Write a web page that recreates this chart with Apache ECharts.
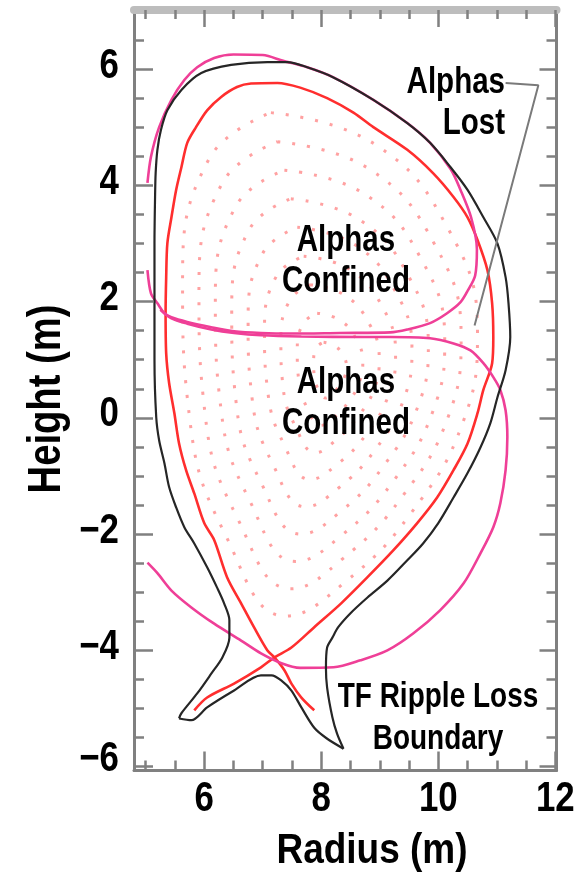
<!DOCTYPE html>
<html><head><meta charset="utf-8">
<script src="https://cdn.jsdelivr.net/npm/echarts@6/dist/echarts.min.js"></script>
<style>html,body{margin:0;padding:0;background:#fff}#c{width:576px;height:873px}</style>
</head><body><div id="c"></div>
<script>
// ---- tick values ----
const xMajorTicks = [6, 8, 10, 12];
const xMinorTicks = [5, 5.5, 6.5, 7, 7.5, 8.5, 9, 9.5, 10.5, 11, 11.5];
const yMajorTicks = [-6, -4, -2, 0, 2, 4, 6];
const yMinorTicks = [-5.5, -5, -4.5, -3.5, -3, -2.5, -1.5, -1, -0.5, 0.5, 1, 1.5, 2.5, 3, 3.5, 4.5, 5, 5.5, 6.5];
const xTickLabels = ['6', '8', '10', '12'];
const yTickLabels = ['\u22126', '\u22124', '\u22122', '0', '2', '4', '6'];

// ---- black boundary (first wall / divertor) ----
const blackOuter = [[5.57,-5.17],[5.61,-5.08],[5.88,-4.74],[6.12,-4.40],[6.31,-4.12],[6.43,-3.78],[6.43,-3.48],[6.34,-3.19],[6.22,-2.92],[6.05,-2.57],[5.83,-2.16],[5.66,-1.88],[5.52,-1.54],[5.40,-1.19],[5.32,-0.78],[5.23,-0.39],[5.18,0.01],[5.15,1.0],[5.15,2.0],[5.15,3.0],[5.16,3.8],[5.17,4.21],[5.20,4.61],[5.26,4.95],[5.37,5.29],[5.61,5.64],[5.95,5.93],[6.46,6.07],[7.08,6.12],[7.42,6.12],[7.76,6.03],[8.2,5.86],[8.89,5.47],[9.47,5.07],[9.86,4.73],[10.21,4.31],[10.50,3.92],[10.77,3.45],[11.01,3.0],[11.15,2.42],[11.2,1.97],[11.23,1.39],[11.15,0.82],[11.01,0.35],[10.89,-0.09],[10.72,-0.51],[10.5,-0.95],[10.26,-1.37],[10.0,-1.81],[9.74,-2.16],[9.47,-2.45],[9.13,-2.8],[8.79,-3.09],[8.5,-3.36],[8.29,-3.6],[8.19,-3.78],[8.10,-3.95],[8.08,-4.3],[8.10,-4.64],[8.19,-5.15],[8.27,-5.43],[8.38,-5.69]];
const blackInner = [[8.38,-5.69],[8.09,-5.51],[7.88,-5.33],[7.66,-4.98],[7.49,-4.69],[7.32,-4.52],[7.15,-4.43],[6.97,-4.43],[6.51,-4.69],[6.05,-4.98],[5.78,-5.2],[5.57,-5.17]];

// ---- red separatrix ----
const separatrix = [[7.88,-5.03],[7.66,-4.81],[7.49,-4.57],[7.37,-4.34],[7.2,-4.12],[7.08,-4.0],[6.85,-3.6],[6.63,-3.19],[6.39,-2.74],[6.17,-2.10],[6.0,-1.81],[5.83,-1.3],[5.69,-0.9],[5.57,-0.44],[5.49,0.08],[5.40,0.6],[5.35,1.11],[5.34,1.8],[5.35,2.42],[5.37,3.0],[5.44,3.45],[5.52,3.92],[5.61,4.31],[5.71,4.73],[5.86,5.0],[6.05,5.29],[6.29,5.52],[6.56,5.69],[6.8,5.75],[7.25,5.76],[7.64,5.68],[8.1,5.5],[8.55,5.25],[8.89,5.0],[9.47,4.61],[9.91,4.21],[10.26,3.80],[10.50,3.45],[10.67,3.06],[10.84,2.54],[10.92,1.97],[10.94,1.39],[10.92,0.94],[10.77,0.48],[10.67,0.08],[10.50,-0.44],[10.26,-0.9],[9.98,-1.37],[9.64,-1.81],[9.23,-2.28],[8.79,-2.74],[8.34,-3.19],[7.88,-3.6],[7.49,-3.95],[7.2,-4.12],[6.97,-4.29],[6.51,-4.57],[6.05,-4.81],[5.83,-5.03]];

// ---- magenta TF ripple loss boundary curves ----
const rippleUpper = [[5.03,4.04],[5.09,4.49],[5.23,5.0],[5.44,5.47],[5.66,5.81],[5.88,6.03],[6.17,6.19],[6.5,6.25],[7.0,6.24],[7.35,6.14],[7.76,6.03],[8.2,5.86],[8.89,5.47],[9.47,5.07],[9.86,4.73],[10.21,4.28],[10.38,3.92],[10.56,3.45],[10.66,2.9],[10.63,2.45],[10.51,2.2],[10.38,1.99],[10.15,1.8],[9.86,1.63],[9.47,1.52],[9.18,1.47],[8.32,1.46],[7.5,1.45],[6.97,1.46],[6.51,1.49],[6.12,1.56],[5.71,1.65],[5.44,1.73],[5.32,1.80],[5.2,1.97],[5.09,2.14],[5.03,2.54]];
const rippleLower = [[5.25,1.86],[5.44,1.71],[5.71,1.62],[6.12,1.52],[6.51,1.46],[6.97,1.42],[7.66,1.40],[8.74,1.39],[9.18,1.39],[9.86,1.37],[10.26,1.28],[10.55,1.16],[10.77,0.94],[10.94,0.70],[11.06,0.48],[11.15,0.13],[11.18,-0.33],[11.15,-0.9],[11.06,-1.47],[10.94,-1.88],[10.72,-2.33],[10.43,-2.85],[10.03,-3.31],[9.57,-3.71],[9.13,-4.0],[8.67,-4.17],[8.21,-4.29],[7.64,-4.30],[7.32,-4.22],[6.97,-4.05],[6.63,-3.83],[6.17,-3.54],[5.78,-3.26],[5.44,-2.97],[5.2,-2.67],[5.03,-2.49]];

// ---- pointer line for "Alphas Lost" ----
const lostPointer = [[11.15,5.76],[11.71,5.72],[10.62,1.59]];

// ---- dotted nested flux surfaces ----
const surf90 = [[7.14,5.25],[8.91,4.71],[10.17,3.25],[10.67,1.48],[10.42,-0.08],[9.54,-1.63],[8.40,-2.83],[7.39,-3.41],[6.39,-2.07],[5.76,-0.08],[5.63,2.36],[6.08,4.45],[7.14,5.25]];
const surf80 = [[7.25,4.75],[8.82,4.28],[9.94,2.98],[10.39,1.40],[10.17,0.02],[9.38,-1.36],[8.37,-2.42],[7.48,-2.94],[6.58,-1.75],[6.02,0.02],[5.91,2.19],[6.31,4.04],[7.25,4.75]];
const surf70 = [[7.37,4.26],[8.74,3.85],[9.72,2.71],[10.11,1.33],[9.91,0.12],[9.23,-1.09],[8.35,-2.02],[7.56,-2.47],[6.78,-1.43],[6.29,0.12],[6.19,2.02],[6.54,3.64],[7.37,4.26]];
const surf60 = [[7.48,3.77],[8.65,3.41],[9.49,2.44],[9.83,1.25],[9.66,0.22],[9.07,-0.82],[8.32,-1.62],[7.65,-2.00],[6.97,-1.11],[6.55,0.22],[6.47,1.85],[6.77,3.24],[7.48,3.77]];
const surf50 = [[7.59,3.28],[8.57,2.98],[9.27,2.17],[9.55,1.18],[9.41,0.32],[8.92,-0.55],[8.29,-1.21],[7.73,-1.53],[7.17,-0.79],[6.82,0.32],[6.75,1.67],[7.00,2.83],[7.59,3.28]];
const surf40 = [[7.70,2.78],[8.49,2.55],[9.05,1.90],[9.27,1.11],[9.16,0.42],[8.77,-0.28],[8.26,-0.81],[7.81,-1.06],[7.37,-0.47],[7.09,0.42],[7.03,1.50],[7.23,2.43],[7.70,2.78]];
const surf30 = [[7.81,2.29],[8.40,2.11],[8.82,1.62],[8.99,1.03],[8.91,0.51],[8.61,0.00],[8.23,-0.40],[7.90,-0.60],[7.56,-0.15],[7.35,0.51],[7.31,1.33],[7.46,2.02],[7.81,2.29]];
const surf20 = [[7.93,1.80],[8.32,1.68],[8.60,1.35],[8.71,0.96],[8.65,0.61],[8.46,0.27],[8.21,0.00],[7.99,-0.13],[7.76,0.17],[7.62,0.61],[7.59,1.16],[7.69,1.62],[7.93,1.80]];
const surf10 = [[8.04,1.30],[8.23,1.24],[8.37,1.08],[8.43,0.89],[8.40,0.71],[8.30,0.54],[8.18,0.41],[8.07,0.34],[7.95,0.49],[7.88,0.71],[7.87,0.98],[7.92,1.21],[8.04,1.30]];
const fluxSurfaces = [surf90, surf80, surf70, surf60, surf50, surf40, surf30, surf20, surf10];

// ---- texts ----
const xName = 'Radius (m)';
const yName = 'Height (m)';
const noteLost = 'Alphas\nLost';
const noteConfined = 'Alphas\nConfined';
const noteRipple = 'TF Ripple Loss\nBoundary';

const FONT = "'Liberation Sans',Arial,Helvetica,sans-serif";
const GRAY = '#808080';

function xAx(pos, ticks, len, line) {
  return {
    type: 'value', position: pos, min: 4.8, max: 12.02,
    axisLine: line ? { show: true, onZero: false, lineStyle: line } : { show: false, onZero: false },
    axisTick: { show: true, inside: true, length: len, customValues: ticks, lineStyle: { color: GRAY, width: 2.5 } },
    axisLabel: { show: false },
    splitLine: { show: false }
  };
}
function yAx(pos, ticks, len, line) {
  return {
    type: 'value', position: pos, min: -6.065, max: 7.015,
    axisLine: line ? { show: true, onZero: false, lineStyle: line } : { show: false, onZero: false },
    axisTick: { show: true, inside: true, length: len, customValues: ticks, lineStyle: { color: GRAY, width: 2.5 } },
    axisLabel: { show: false },
    splitLine: { show: false }
  };
}

const series = [];
fluxSurfaces.forEach(s => series.push({
  type: 'line', data: s, smooth: 0.45, showSymbol: false, silent: true, z: 1,
  lineStyle: { color: 'rgba(255,110,110,0.65)', width: 3, type: [3, 12], cap: 'butt' }
}));
series.push({ type: 'line', data: separatrix, smooth: 0.3, showSymbol: false, z: 3, lineStyle: { color: '#ff2e2e', width: 2.6 } });
series.push({ type: 'line', data: rippleUpper, smooth: 0.3, showSymbol: false, z: 4, lineStyle: { color: '#ef3f97', width: 2.6 } });
series.push({ type: 'line', data: rippleLower, smooth: 0.3, showSymbol: false, z: 4, lineStyle: { color: '#ef3f97', width: 2.6 } });
series.push({ type: 'line', data: blackOuter, smooth: 0.3, showSymbol: false, z: 5, lineStyle: { color: '#262626', width: 2.2 } });
series.push({ type: 'line', data: blackInner, smooth: 0.3, showSymbol: false, z: 5, lineStyle: { color: '#262626', width: 2.2 } });
series.push({ type: 'line', data: lostPointer, smooth: false, showSymbol: false, z: 5, lineStyle: { color: '#7a7a7a', width: 2 } });

const chart = echarts.init(document.getElementById('c'), null, { renderer: 'canvas' });
chart.setOption({
  animation: false,
  backgroundColor: '#fff',
  grid: { left: 134, right: 19.5, top: 10, bottom: 102.5, containLabel: false, outerBoundsMode: 'none' },
  xAxis: [
    xAx('bottom', xMajorTicks, 19, { color: GRAY, width: 3 }),
    xAx('bottom', xMinorTicks, 10, null),
    xAx('top', xMajorTicks, 17, { color: '#bdbdbd', width: 8 }),
    xAx('top', xMinorTicks, 9, null)
  ],
  yAxis: [
    yAx('left', yMajorTicks, 19, { color: GRAY, width: 3 }),
    yAx('left', yMinorTicks, 10, null),
    yAx('right', yMajorTicks, 17, { color: GRAY, width: 3 }),
    yAx('right', yMinorTicks, 10, null)
  ],
  series: series
});

// condensed bold text (the original uses a narrow face): scaled horizontally
function txt(text, x, y, size, sx, align, extra) {
  return Object.assign({
    type: 'text', x: x, y: y, scaleX: sx, z: 10,
    style: { text: text, font: 'bold ' + size + 'px ' + FONT, fill: '#000', align: align, verticalAlign: 'middle' }
  }, extra || {});
}
const graphics = [];
xMajorTicks.forEach((v, i) => {
  const px = chart.convertToPixel({ xAxisIndex: 0 }, v);
  graphics.push(txt(xTickLabels[i], px, 799, 42, 0.83, 'center'));
});
yMajorTicks.forEach((v, i) => {
  let py = chart.convertToPixel({ yAxisIndex: 0 }, v) - 3;
  if (v === -6) py -= 4;
  graphics.push(txt(yTickLabels[i], 119, py, 42, 0.83, 'right'));
});
graphics.push(txt(xName, 372, 851, 43, 0.86, 'center'));
graphics.push(Object.assign(txt(yName, 47, 399, 46, 0.83, 'center'), { rotation: Math.PI / 2, scaleX: 0.83 }));
const note = (t, x, y, size, sx, align, lh) => {
  const g = txt(t, x, y, size, sx, align);
  g.style.lineHeight = lh;
  return g;
};
graphics.push(note(noteLost, 505, 104, 36, 0.82, 'right', 41));
graphics.push(note(noteConfined, 346, 262, 36, 0.82, 'center', 41));
graphics.push(note(noteConfined, 346, 404, 36, 0.82, 'center', 41));
graphics.push(note(noteRipple, 438, 718, 35, 0.8, 'center', 42));
chart.setOption({ graphic: graphics });
</script>
</body></html>
